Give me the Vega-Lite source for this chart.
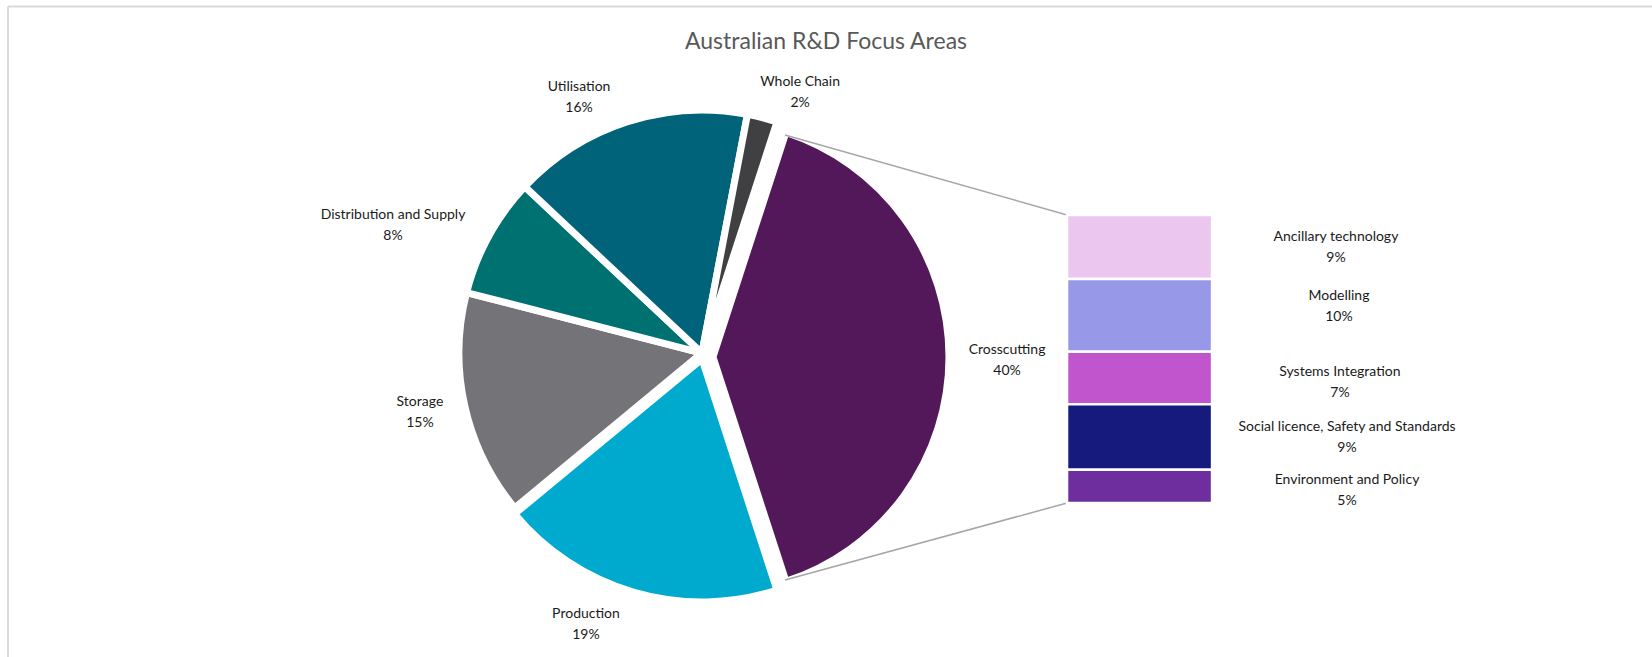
{
  "$schema": "https://vega.github.io/schema/vega-lite/v6.json",
  "width": 1652,
  "height": 657,
  "autosize": "none",
  "padding": 0,
  "background": "white",
  "config": {
    "view": {"stroke": null},
    "font": "Lato",
    "text": {"font": "Lato", "fontSize": 14, "color": "#1a1a1a", "baseline": "middle", "align": "center"}
  },
  "title": {
    "text": "Australian R&D Focus Areas",
    "font": "Lato",
    "fontSize": 23,
    "fontWeight": "normal",
    "color": "#595959",
    "anchor": "middle",
    "frame": "group",
    "offset": -72,
    "baseline": "alphabetic"
  },
  "datasets": {
    "pie": [
      {"name": "Crosscutting", "share": 0.40, "order": 1},
      {"name": "Production", "share": 0.19, "order": 2},
      {"name": "Storage", "share": 0.15, "order": 3},
      {"name": "Distribution and Supply", "share": 0.08, "order": 4},
      {"name": "Utilisation", "share": 0.16, "order": 5},
      {"name": "Whole Chain", "share": 0.02, "order": 6}
    ],
    "bar": [
      {"name": "Ancillary technology", "share": 0.089, "order": 5},
      {"name": "Modelling", "share": 0.101, "order": 4},
      {"name": "Systems Integration", "share": 0.073, "order": 3},
      {"name": "Social licence, Safety and Standards", "share": 0.091, "order": 2},
      {"name": "Environment and Policy", "share": 0.046, "order": 1}
    ]
  },
  "layer": [
    {
      "data": {"values": [{}]},
      "mark": {"type": "rule", "color": "#D9D9D9", "strokeWidth": 2},
      "encoding": {
        "x": {"datum": 0.484, "type": "quantitative", "scale": {"domain": [0, 100], "nice": false, "zero": false}, "axis": null},
        "y": {"datum": 0.6896, "type": "quantitative", "scale": {"domain": [-0.2139, 0.6986], "nice": false, "zero": false}, "axis": null},
        "x2": {"datum": 100}
      }
    },
    {
      "data": {"values": [{}]},
      "mark": {"type": "rule", "color": "#D9D9D9", "strokeWidth": 2},
      "encoding": {
        "x": {"datum": 0.484, "type": "quantitative"},
        "y": {"datum": -0.2139, "type": "quantitative"},
        "y2": {"datum": 0.6896}
      }
    },
    {
      "data": {"name": "pie"},
      "transform": [
        {"stack": "share", "groupby": [], "sort": [{"field": "order", "order": "ascending"}], "as": ["t0", "t1"]},
        {"filter": "datum.name !== 'Crosscutting' && datum.name !== 'Production'"}
      ],
      "mark": {"type": "arc", "outerRadius": 243, "stroke": "white", "strokeWidth": 7, "strokeJoin": "round"},
      "encoding": {
        "x": {"datum": 42.49, "type": "quantitative"},
        "y": {"datum": 0.2083, "type": "quantitative"},
        "theta": {"field": "t0", "type": "quantitative", "scale": {"domain": [0, 1], "range": [0.314159, 6.597345]}},
        "theta2": {"field": "t1"},
        "color": {
          "field": "name",
          "type": "nominal",
          "legend": null,
          "scale": {
            "domain": ["Crosscutting", "Production", "Storage", "Distribution and Supply", "Utilisation", "Whole Chain", "Ancillary technology", "Modelling", "Systems Integration", "Social licence, Safety and Standards", "Environment and Policy"],
            "range": ["#53185A", "#00AACF", "#747377", "#007171", "#00637A", "#404042", "#EBC6EF", "#9898E8", "#C155CE", "#171A7D", "#6F2E9D"]
          }
        }
      }
    },
    {
      "data": {"name": "pie"},
      "transform": [
        {"stack": "share", "groupby": [], "sort": [{"field": "order", "order": "ascending"}], "as": ["t0", "t1"]},
        {"filter": "datum.name === 'Production'"}
      ],
      "mark": {"type": "arc", "outerRadius": 243, "stroke": "white", "strokeWidth": 7, "strokeJoin": "round"},
      "encoding": {
        "x": {"datum": 42.49, "type": "quantitative"},
        "y": {"datum": 0.2, "type": "quantitative"},
        "theta": {"field": "t0", "type": "quantitative"},
        "theta2": {"field": "t1"},
        "color": {"field": "name", "type": "nominal", "legend": null}
      }
    },
    {
      "data": {"name": "pie"},
      "transform": [
        {"stack": "share", "groupby": [], "sort": [{"field": "order", "order": "ascending"}], "as": ["t0", "t1"]},
        {"filter": "datum.name === 'Crosscutting'"}
      ],
      "mark": {"type": "arc", "outerRadius": 236, "stroke": "white", "strokeWidth": 7, "strokeJoin": "round"},
      "encoding": {
        "x": {"datum": 43.16, "type": "quantitative"},
        "y": {"datum": 0.2028, "type": "quantitative"},
        "theta": {"field": "t0", "type": "quantitative"},
        "theta2": {"field": "t1"},
        "color": {"field": "name", "type": "nominal", "legend": null}
      }
    },
    {
      "data": {"values": [{}]},
      "mark": {"type": "rule", "color": "#A6A6A6", "strokeWidth": 1.5},
      "encoding": {
        "x": {"datum": 47.52, "type": "quantitative"},
        "y": {"datum": 0.5111, "type": "quantitative"},
        "x2": {"datum": 64.59},
        "y2": {"datum": 0.4}
      }
    },
    {
      "data": {"values": [{}]},
      "mark": {"type": "rule", "color": "#A6A6A6", "strokeWidth": 1.5},
      "encoding": {
        "x": {"datum": 47.52, "type": "quantitative"},
        "y": {"datum": -0.107, "type": "quantitative"},
        "x2": {"datum": 64.59},
        "y2": {"datum": 0}
      }
    },
    {
      "data": {"name": "bar"},
      "transform": [
        {"stack": "share", "groupby": [], "sort": [{"field": "order", "order": "ascending"}], "as": ["y0", "y1"]}
      ],
      "mark": {"type": "rect", "stroke": "white", "strokeWidth": 2.5},
      "encoding": {
        "x": {"datum": 64.59, "type": "quantitative"},
        "x2": {"datum": 73.37},
        "y": {"field": "y0", "type": "quantitative"},
        "y2": {"field": "y1"},
        "color": {"field": "name", "type": "nominal", "legend": null}
      }
    },
    {
      "data": {"name": "pie"},
      "transform": [{"filter": "datum.name === 'Utilisation'"}],
      "encoding": {"x": {"datum": 35.05, "type": "quantitative"}, "y": {"datum": 0.5625, "type": "quantitative"}},
      "layer": [
        {"mark": {"type": "text", "dy": -10.5}, "encoding": {"text": {"field": "name"}}},
        {"mark": {"type": "text", "dy": 10.5}, "encoding": {"text": {"field": "share", "format": ".0%"}}}
      ]
    },
    {
      "data": {"name": "pie"},
      "transform": [{"filter": "datum.name === 'Whole Chain'"}],
      "encoding": {"x": {"datum": 48.43, "type": "quantitative"}, "y": {"datum": 0.5708, "type": "quantitative"}},
      "layer": [
        {"mark": {"type": "text", "dy": -10.5}, "encoding": {"text": {"field": "name"}}},
        {"mark": {"type": "text", "dy": 10.5}, "encoding": {"text": {"field": "share", "format": ".0%"}}}
      ]
    },
    {
      "data": {"name": "pie"},
      "transform": [{"filter": "datum.name === 'Distribution and Supply'"}],
      "encoding": {"x": {"datum": 23.79, "type": "quantitative"}, "y": {"datum": 0.3861, "type": "quantitative"}},
      "layer": [
        {"mark": {"type": "text", "dy": -10.5}, "encoding": {"text": {"field": "name"}}},
        {"mark": {"type": "text", "dy": 10.5}, "encoding": {"text": {"field": "share", "format": ".0%"}}}
      ]
    },
    {
      "data": {"name": "pie"},
      "transform": [{"filter": "datum.name === 'Storage'"}],
      "encoding": {"x": {"datum": 25.42, "type": "quantitative"}, "y": {"datum": 0.125, "type": "quantitative"}},
      "layer": [
        {"mark": {"type": "text", "dy": -10.5}, "encoding": {"text": {"field": "name"}}},
        {"mark": {"type": "text", "dy": 10.5}, "encoding": {"text": {"field": "share", "format": ".0%"}}}
      ]
    },
    {
      "data": {"name": "pie"},
      "transform": [{"filter": "datum.name === 'Production'"}],
      "encoding": {"x": {"datum": 35.47, "type": "quantitative"}, "y": {"datum": -0.1681, "type": "quantitative"}},
      "layer": [
        {"mark": {"type": "text", "dy": -10.5}, "encoding": {"text": {"field": "name"}}},
        {"mark": {"type": "text", "dy": 10.5}, "encoding": {"text": {"field": "share", "format": ".0%"}}}
      ]
    },
    {
      "data": {"name": "pie"},
      "transform": [{"filter": "datum.name === 'Crosscutting'"}],
      "encoding": {"x": {"datum": 60.96, "type": "quantitative"}, "y": {"datum": 0.1986, "type": "quantitative"}},
      "layer": [
        {"mark": {"type": "text", "dy": -10.5}, "encoding": {"text": {"field": "name"}}},
        {"mark": {"type": "text", "dy": 10.5}, "encoding": {"text": {"field": "share", "format": ".0%"}}}
      ]
    },
    {
      "data": {"name": "bar"},
      "transform": [{"filter": "datum.name === 'Ancillary technology'"}],
      "encoding": {"x": {"datum": 80.87, "type": "quantitative"}, "y": {"datum": 0.3549, "type": "quantitative"}},
      "layer": [
        {"mark": {"type": "text", "dy": -10.5}, "encoding": {"text": {"field": "name"}}},
        {"mark": {"type": "text", "dy": 10.5}, "encoding": {"text": {"field": "share", "format": ".0%"}}}
      ]
    },
    {
      "data": {"name": "bar"},
      "transform": [{"filter": "datum.name === 'Modelling'"}],
      "encoding": {"x": {"datum": 81.05, "type": "quantitative"}, "y": {"datum": 0.2726, "type": "quantitative"}},
      "layer": [
        {"mark": {"type": "text", "dy": -10.5}, "encoding": {"text": {"field": "name"}}},
        {"mark": {"type": "text", "dy": 10.5}, "encoding": {"text": {"field": "share", "format": ".0%"}}}
      ]
    },
    {
      "data": {"name": "bar"},
      "transform": [{"filter": "datum.name === 'Systems Integration'"}],
      "encoding": {"x": {"datum": 81.11, "type": "quantitative"}, "y": {"datum": 0.1667, "type": "quantitative"}},
      "layer": [
        {"mark": {"type": "text", "dy": -10.5}, "encoding": {"text": {"field": "name"}}},
        {"mark": {"type": "text", "dy": 10.5}, "encoding": {"text": {"field": "share", "format": ".0%"}}}
      ]
    },
    {
      "data": {"name": "bar"},
      "transform": [{"filter": "datum.name === 'Social licence, Safety and Standards'"}],
      "encoding": {"x": {"datum": 81.54, "type": "quantitative"}, "y": {"datum": 0.0903, "type": "quantitative"}},
      "layer": [
        {"mark": {"type": "text", "dy": -10.5}, "encoding": {"text": {"field": "name"}}},
        {"mark": {"type": "text", "dy": 10.5}, "encoding": {"text": {"field": "share", "format": ".0%"}}}
      ]
    },
    {
      "data": {"name": "bar"},
      "transform": [{"filter": "datum.name === 'Environment and Policy'"}],
      "encoding": {"x": {"datum": 81.54, "type": "quantitative"}, "y": {"datum": 0.0167, "type": "quantitative"}},
      "layer": [
        {"mark": {"type": "text", "dy": -10.5}, "encoding": {"text": {"field": "name"}}},
        {"mark": {"type": "text", "dy": 10.5}, "encoding": {"text": {"field": "share", "format": ".0%"}}}
      ]
    }
  ]
}
